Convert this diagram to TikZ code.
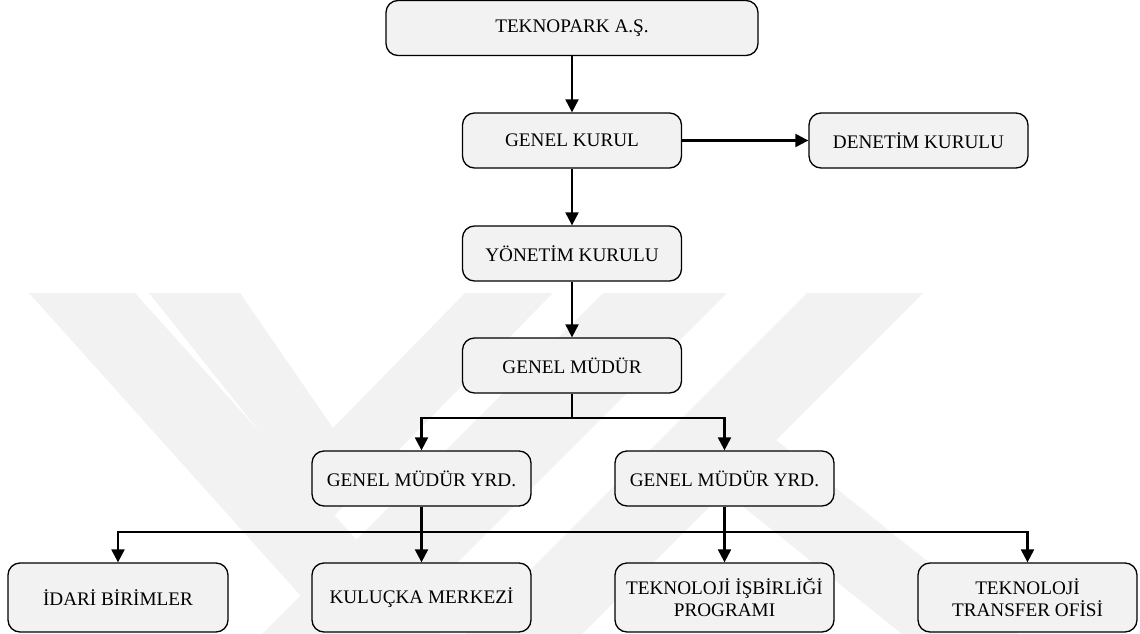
\documentclass[tikz,border=0pt]{standalone}
\usepackage{fontspec}
\setmainfont{Liberation Serif}
\usetikzlibrary{arrows.meta}
\definecolor{boxfill}{RGB}{242,242,242}
\definecolor{wm}{RGB}{242,242,242}
\tikzset{
  orgbox/.style={draw=black, line width=1.3pt, fill=boxfill, rounded corners=12pt,
    minimum width=219pt, minimum height=55pt, inner sep=2pt, align=center,
    font=\fontsize{19.2}{22}\selectfont},
  tallbox/.style={orgbox, minimum height=69pt},
  arr/.style={draw=black, line width=2.2pt, -{Triangle[length=13pt,width=13pt]}},
  wmark/.style={fill=wm, draw=none}
}
\begin{document}
\begin{tikzpicture}[x=1pt,y=-1pt]
\useasboundingbox (0,0) rectangle (1140,634);
% watermark
\fill[wmark] (29,293) -- (135,293) -- (441,634) -- (335,634) -- cycle;
\fill[wmark] (149,293) -- (240,293) -- (333,428) -- (465,293) -- (553,293) -- (330,520) -- cycle;
\fill[wmark] (603,293) -- (727,293) -- (386,634) -- (262,634) -- cycle;
\fill[wmark] (807,293) -- (923,293) -- (582,634) -- (466,634) -- cycle;
\fill[wmark] (660,440) -- (776,440) -- (1018,634) -- (902,634) -- cycle;
% nodes
\node[orgbox, minimum width=372pt] (tek) at (572,28) {TEKNOPARK A.Ş.};
\node[orgbox] (gk) at (572,140.5) {GENEL KURUL};
\node[orgbox] (dk) at (918.5,140.5) {DENETİM KURULU};
\node[orgbox] (yk) at (572,253.5) {YÖNETİM KURULU};
\node[orgbox] (gm) at (572,365.5) {GENEL MÜDÜR};
\node[orgbox] (gmy1) at (421.5,478.5) {GENEL MÜDÜR YRD.};
\node[orgbox] (gmy2) at (724.5,478.5) {GENEL MÜDÜR YRD.};
\node[tallbox, minimum width=220pt] (id) at (118,597.5) {İDARİ BİRİMLER};
\node[tallbox] (km) at (421.5,597.5) {KULUÇKA MERKEZİ};
\node[tallbox] (ti) at (724.5,597.5) {TEKNOLOJİ İŞBİRLİĞİ\\PROGRAMI};
\node[tallbox] (tt) at (1027.5,597.5) {TEKNOLOJİ\\TRANSFER OFİSİ};
% junctions
\coordinate (j1) at (572,418);
\coordinate (j2) at (572,532);
% connectors
\draw[arr] (tek) -- (gk);
\draw[arr] (gk) -- (dk);
\draw[arr] (gk) -- (yk);
\draw[arr] (yk) -- (gm);
\draw[line width=2.2pt] (gm.south) -- (j1);
\draw[arr] (j1) -| (gmy1.north);
\draw[arr] (j1) -| (gmy2.north);
\draw[arr] (gmy1) -- (km);
\draw[arr] (gmy2) -- (ti);
\draw[arr] (j2) -| (id.north);
\draw[arr] (j2) -| (tt.north);
\end{tikzpicture}
\end{document}
